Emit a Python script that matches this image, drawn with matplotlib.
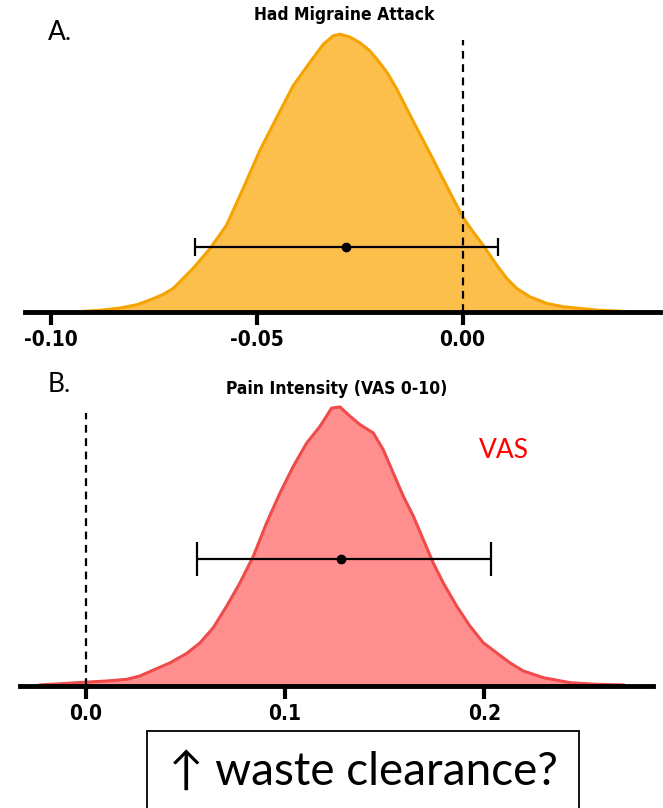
import matplotlib
matplotlib.use("Agg")
import matplotlib.pyplot as plt
from matplotlib import font_manager
from matplotlib.patches import Rectangle

# posterior density for "Had Migraine Attack" (normalised to peak = 1)
attack_x = [-0.0945, -0.0881, -0.0832, -0.0791, -0.0759, -0.0727, -0.0702, -0.0678,
            -0.0654, -0.0613, -0.0573, -0.0533, -0.0492, -0.0451, -0.0411, -0.0371,
            -0.0338, -0.0314, -0.0298, -0.0274, -0.0249, -0.0225, -0.0201, -0.0181,
            -0.0160, -0.0120, -0.0079, -0.0039, 0.0000, 0.0026, 0.0050, 0.0083,
            0.0107, 0.0131, 0.0163, 0.0204, 0.0244, 0.0325, 0.0406]
attack_d = [0.0, 0.006, 0.014, 0.026, 0.043, 0.063, 0.085, 0.121,
            0.157, 0.228, 0.312, 0.443, 0.581, 0.700, 0.814, 0.897,
            0.963, 0.993, 0.999, 0.989, 0.968, 0.939, 0.896, 0.856,
            0.802, 0.686, 0.570, 0.454, 0.342, 0.287, 0.240, 0.168,
            0.121, 0.085, 0.055, 0.031, 0.019, 0.007, 0.001]
attack_mean = -0.0283
attack_ci = (-0.0650, 0.0086)
attack_ticks = [-0.10, -0.05, 0.00]
attack_ticklabels = ["-0.10", "-0.05", "0.00"]

# posterior density for pain intensity (VAS 0-10)
vas_x = [-0.0250, -0.0229, -0.0129, 0.0005, 0.0105, 0.0206, 0.0272, 0.0339, 0.0423,
         0.0507, 0.0574, 0.0640, 0.0707, 0.0774, 0.0841, 0.0908, 0.0975,
         0.1042, 0.1109, 0.1176, 0.1234, 0.1276, 0.1326, 0.1376, 0.1443,
         0.1493, 0.1543, 0.1594, 0.1644, 0.1694, 0.1744, 0.1794, 0.1862,
         0.1928, 0.1995, 0.2062, 0.2129, 0.2196, 0.2296, 0.2430, 0.2564, 0.2697]
vas_d = [0.0, 0.004, 0.008, 0.014, 0.018, 0.024, 0.036, 0.057, 0.083,
         0.117, 0.155, 0.209, 0.286, 0.370, 0.465, 0.585, 0.692,
         0.788, 0.871, 0.931, 0.996, 1.0, 0.967, 0.937, 0.907,
         0.847, 0.764, 0.680, 0.609, 0.525, 0.441, 0.370, 0.286,
         0.215, 0.155, 0.119, 0.083, 0.054, 0.030, 0.012, 0.006, 0.004]
vas_mean = 0.1281
vas_ci = (0.0557, 0.2032)
vas_ticks = [0.0, 0.1, 0.2]
vas_ticklabels = ["0.0", "0.1", "0.2"]

W, H = 663, 808

# narrow bold face for ticks and titles, whichever is installed
_installed = {f.name for f in font_manager.fontManager.ttflist}
if "Liberation Sans Narrow" in _installed:
    NARROW = dict(fontfamily="Liberation Sans Narrow")
else:
    NARROW = dict(fontfamily="DejaVu Sans", fontstretch="condensed")
PLAIN = ["Lato", "DejaVu Sans"]

fig = plt.figure(figsize=(W / 100, H / 100), dpi=100)


def px_axes(x0, x1, y_top, y_axis):
    return fig.add_axes([x0 / W, 1 - y_axis / H, (x1 - x0) / W, (y_axis - y_top) / H])


def density_panel(ax, x, d, fill, edge, mean, ci, bar_y, capsize, ticks, ticklabels,
                  xlim, ytop):
    ax.fill_between(x, 0, d, color=fill, linewidth=0, zorder=1)
    ax.plot(x, d, color=edge, linewidth=2.2, solid_joinstyle="round", zorder=2)
    ax.vlines(0, 0, 0.978, colors="black", linestyles=(0, (3.5, 2.5)), linewidth=1.6, zorder=3)
    ax.errorbar([mean], [bar_y], xerr=[[mean - ci[0]], [ci[1] - mean]], fmt="o",
                color="black", markersize=6, elinewidth=1.6, capsize=capsize,
                capthick=1.6, zorder=4)
    ax.set_xlim(*xlim)
    ax.set_ylim(0, ytop)
    for s in ("left", "right", "top"):
        ax.spines[s].set_visible(False)
    ax.spines["bottom"].set_linewidth(3.5)
    ax.set_yticks([])
    ax.set_xticks(ticks)
    ax.set_xticklabels(ticklabels, fontweight="bold", fontsize=15, **NARROW)
    ax.tick_params(axis="x", length=9, width=3, pad=4)
    ax.patch.set_alpha(0)


ax_a = px_axes(25, 660, 25, 312)
density_panel(ax_a, attack_x, attack_d, "#FDBF4C", "#F5A300", attack_mean, attack_ci,
              0.234, 6.5, attack_ticks, attack_ticklabels, (-0.1062, 0.0479), 1.032)

ax_b = px_axes(20, 653, 400, 686)
density_panel(ax_b, vas_x, vas_d, "#FF8E8E", "#F04B4B", vas_mean, vas_ci,
              0.455, 12, vas_ticks, vas_ticklabels, (-0.033, 0.2847), 1.025)

fig.text(344 / W, 1 - 15 / H, "Had Migraine Attack", ha="center", va="center",
         fontweight="bold", fontsize=12.5, **NARROW)
fig.text(337 / W, 1 - 389 / H, "Pain Intensity (VAS 0-10)", ha="center", va="center",
         fontweight="bold", fontsize=12.5, **NARROW)

fig.text(48 / W, 1 - 33 / H, "A.", ha="left", va="center", fontfamily=PLAIN, fontsize=19)
fig.text(48 / W, 1 - 384 / H, "B.", ha="left", va="center", fontfamily=PLAIN, fontsize=19)

fig.text(504 / W, 1 - 450 / H, "VAS", ha="center", va="center", color="#FF0000",
         fontfamily=PLAIN, fontsize=19)

# callout box at the bottom, running off the lower edge
fig.patches.append(Rectangle((147 / W, -0.05), 432 / W, 0.05 + 1 - 731 / H,
                             transform=fig.transFigure, facecolor="white",
                             edgecolor="black", linewidth=1.3))
fig.text(363 / W, 1 - 772 / H, "\u2191 waste clearance?", ha="center", va="center",
         fontfamily=PLAIN, fontsize=33)

fig.savefig("out.png", dpi=100)
